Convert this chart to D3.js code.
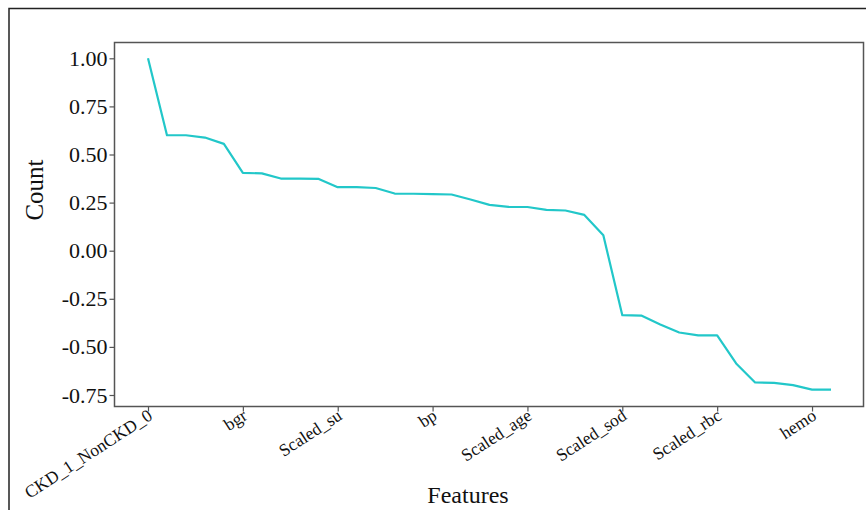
<!DOCTYPE html>
<html>
<head>
<meta charset="utf-8">
<script src="https://cdn.jsdelivr.net/npm/d3@7"></script>
<style>
  body { margin: 0; background: #fff; }
  svg { display: block; }
</style>
</head>
<body>
<svg id="chart" width="866" height="510"></svg>
<script>
// Correlation of each feature with the target, sorted from high to low.
// Only every fifth feature is labelled on the x axis.
const correlations = [
  1.000, 0.600, 0.600, 0.588, 0.555, 0.404, 0.402, 0.375, 0.375, 0.373,
  0.330, 0.330, 0.326, 0.297, 0.296, 0.294, 0.292, 0.266, 0.238, 0.228,
  0.227, 0.212, 0.209, 0.186, 0.080, -0.335, -0.337, -0.383, -0.425, -0.440,
  -0.440, -0.586, -0.685, -0.687, -0.699, -0.722, -0.722
];
const tickPositions = [0, 5, 10, 15, 20, 25, 30, 35];
const tickLabels = ["CKD_1_NonCKD_0", "bgr", "Scaled_su", "bp", "Scaled_age", "Scaled_sod", "Scaled_rbc", "hemo"];
const yTicks = [1.0, 0.75, 0.5, 0.25, 0.0, -0.25, -0.5, -0.75];

// Layout of the plot area (pixels).
const panel = { left: 114.5, right: 863.5, top: 42.5, bottom: 406.5 };
const lineColor = "#22c7c9";
const axisColor = "#555";
const fontFamily = "'Liberation Serif', 'Times New Roman', serif";

const svg = d3.select("#chart");

// Outer frame (only top and left edges are visible).
svg.append("path")
  .attr("d", "M9,510 L9,8.5 L866,8.5")
  .attr("fill", "none")
  .attr("stroke", "#222")
  .attr("stroke-width", 1.5);

// Scales
const x = d3.scaleLinear()
  .domain([0, correlations.length - 1])
  .range([148, 831]);
const y = d3.scaleLinear()
  .domain([-0.75, 1.0])
  .range([395, 58.3]);

// Panel border
svg.append("rect")
  .attr("x", panel.left)
  .attr("y", panel.top)
  .attr("width", panel.right - panel.left)
  .attr("height", panel.bottom - panel.top)
  .attr("fill", "none")
  .attr("stroke", axisColor)
  .attr("stroke-width", 1.5);

// Y axis, plain hyphen for negatives
const fmt = d3.format(".2f");
const yAxis = svg.append("g")
  .attr("transform", `translate(${panel.left},0)`)
  .call(d3.axisLeft(y)
    .tickValues(yTicks)
    .tickFormat(d => fmt(d).replace("\u2212", "-"))
    .tickSize(5)
    .tickPadding(2));
yAxis.select(".domain").remove();
yAxis.selectAll(".tick line").attr("stroke", axisColor).attr("stroke-width", 1.2);
yAxis.selectAll(".tick text")
  .attr("fill", "#111")
  .style("font-family", fontFamily)
  .style("font-size", "22px");

// X axis
const xAxis = svg.append("g")
  .attr("transform", `translate(0,${panel.bottom})`)
  .call(d3.axisBottom(x)
    .tickValues(tickPositions)
    .tickFormat((d, i) => tickLabels[i])
    .tickSize(5));
xAxis.select(".domain").remove();
xAxis.selectAll(".tick line").attr("stroke", axisColor).attr("stroke-width", 1.2);
xAxis.selectAll(".tick text")
  .attr("fill", "#111")
  .attr("text-anchor", "end")
  .attr("dy", null)
  .attr("y", 0)
  .attr("transform", "translate(5,12) rotate(-33)")
  .style("font-family", fontFamily)
  .style("font-size", "17.5px");

// The correlation line
const line = d3.line()
  .x((d, i) => x(i))
  .y(d => y(d));

svg.append("path")
  .datum(correlations)
  .attr("d", line)
  .attr("fill", "none")
  .attr("stroke", lineColor)
  .attr("stroke-width", 2.2)
  .attr("stroke-linejoin", "round");

// Axis titles
svg.append("text")
  .attr("x", 468)
  .attr("y", 503)
  .attr("text-anchor", "middle")
  .style("font-family", fontFamily)
  .style("font-size", "24px")
  .attr("fill", "#111")
  .text("Features");

svg.append("text")
  .attr("transform", "translate(43,190) rotate(-90)")
  .attr("text-anchor", "middle")
  .style("font-family", fontFamily)
  .style("font-size", "25px")
  .attr("fill", "#111")
  .text("Count");
</script>
</body>
</html>
